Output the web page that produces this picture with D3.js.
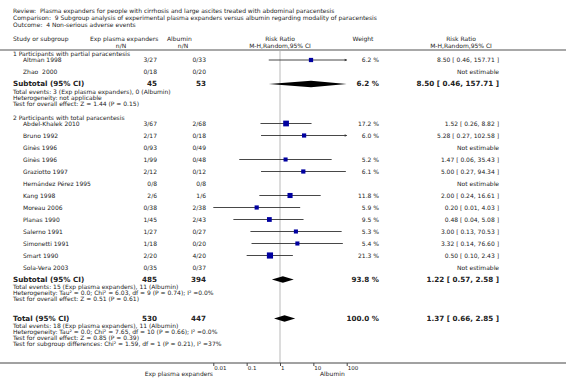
<!DOCTYPE html>
<html><head><meta charset="utf-8">
<script src="https://cdn.jsdelivr.net/npm/d3@7"></script>
<style>
html,body{margin:0;padding:0;background:#fff;}
svg{display:block;font-family:"DejaVu Sans",Verdana,sans-serif;}
text{white-space:pre;fill:#222;}
</style></head>
<body>
<svg id="c" width="566" height="380"></svg>
<script>
// ---------- data ----------
const headerLines = [
  "Review:  Plasma expanders for people with cirrhosis and large ascites treated with abdominal paracentesis",
  "Comparison:  9 Subgroup analysis of experimental plasma expanders versus albumin regarding modality of paracentesis",
  "Outcome:  4 Non-serious adverse events"
];
const groupTitles = ["1 Participants with partial paracentesis", "2 Participants with total paracentesis"];
const studies = ["Altman 1998","Zhao  2000",
  "Abdel-Khalek 2010","Bruno 1992","Ginès 1996","Ginès 1996","Graziotto 1997","Hernández Pérez 1995",
  "Kang 1998","Moreau 2006","Planas 1990","Salerno 1991","Simonetti 1991","Smart 1990","Sola-Vera 2003"];
const studyGroup = [0,0, 1,1,1,1,1,1,1,1,1,1,1,1,1];
const expNN = ["3/27","0/18", "3/67","2/17","0/93","1/99","2/12","0/8","2/6","0/38","1/45","1/27","1/18","2/20","0/35"];
const albNN = ["0/33","0/20", "2/68","0/18","0/49","0/48","0/12","0/8","1/6","2/38","2/43","0/27","0/20","4/20","0/37"];
const rr    = [8.50,null, 1.52,5.28,null,1.47,5.00,null,2.00,0.20,0.48,3.00,3.32,0.50,null];
const rrLo  = [0.46,null, 0.26,0.27,null,0.06,0.27,null,0.24,0.01,0.04,0.13,0.14,0.10,null];
const rrHi  = [157.71,null, 8.82,102.58,null,35.43,94.34,null,16.61,4.03,5.08,70.53,76.60,2.43,null];
const weight= [6.2,null, 17.2,6.0,null,5.2,6.1,null,11.8,5.9,9.5,5.3,5.4,21.3,null];

const subLabels = ["Subtotal (95% CI)","Subtotal (95% CI)","Total (95% CI)"];
const subExpN = ["45","485","530"];
const subAlbN = ["53","394","447"];
const subRR   = [8.50,1.22,1.37];
const subLo   = [0.46,0.57,0.66];
const subHi   = [157.71,2.58,2.85];
const subWeight = ["6.2 %","93.8 %","100.0 %"];
const subInfo = [
  ["Total events: 3 (Exp plasma expanders), 0 (Albumin)",
   "Heterogeneity: not applicable",
   "Test for overall effect: Z = 1.44 (P = 0.15)"],
  ["Total events: 15 (Exp plasma expanders), 11 (Albumin)",
   "Heterogeneity: Tau² = 0.0; Chi² = 6.03, df = 9 (P = 0.74); I² =0.0%",
   "Test for overall effect: Z = 0.51 (P = 0.61)"],
  ["Total events: 18 (Exp plasma expanders), 11 (Albumin)",
   "Heterogeneity: Tau² = 0.0; Chi² = 7.65, df = 10 (P = 0.66); I² =0.0%",
   "Test for overall effect: Z = 0.85 (P = 0.39)",
   "Test for subgroup differences: Chi² = 1.59, df = 1 (P = 0.21), I² =37%"]
];
const tickValues = [0.01,0.1,1,10,100];
const tickLabels = ["0.01","0.1","1","10","100"];
const favourLeft = "Exp plasma expanders", favourRight = "Albumin";

// ---------- layout ----------
const svg = d3.select("#c");
const x = d3.scaleLog().domain([0.01,100]).range([213.3,346.7]).clamp(true);
const boxSize = d3.scaleSqrt().domain([0,25]).range([2,6.5]);
const fmt = d3.format(".2f");
const ciText = (r,l,h) => `${fmt(r)} [ ${fmt(l)}, ${fmt(h)} ]`;

const X = {label:13, study:23, exp:157, alb:206, weight:379, ci:499};
const small = 6, bold = 7.2;
const axisY = 363;

// header
headerLines.forEach((t,i)=>svg.append("text").attr("x",13).attr("y",13+i*7).attr("font-size",6).text(t));
const hy1 = 41, hy2 = 48;
svg.append("text").attr("x",13).attr("y",hy1).attr("font-size",6).text("Study or subgroup");
svg.append("text").attr("x",90).attr("y",hy1).attr("font-size",6).text("Exp plasma expanders");
svg.append("text").attr("x",167).attr("y",hy1).attr("font-size",6).text("Albumin");
svg.append("text").attr("x",121).attr("y",hy2).attr("font-size",6).attr("text-anchor","middle").text("n/N");
svg.append("text").attr("x",183).attr("y",hy2).attr("font-size",6).attr("text-anchor","middle").text("n/N");
svg.append("text").attr("x",x(1)).attr("y",hy1).attr("font-size",6).attr("text-anchor","middle").text("Risk Ratio");
svg.append("text").attr("x",x(1)).attr("y",hy2).attr("font-size",6).attr("text-anchor","middle").text("M-H,Random,95% CI");
svg.append("text").attr("x",363).attr("y",hy1).attr("font-size",6).attr("text-anchor","middle").text("Weight");
svg.append("text").attr("x",461).attr("y",hy1).attr("font-size",6).attr("text-anchor","middle").text("Risk Ratio");
svg.append("text").attr("x",461).attr("y",hy2).attr("font-size",6).attr("text-anchor","middle").text("M-H,Random,95% CI");
svg.append("rect").attr("x",0).attr("y",49).attr("width",566).attr("height",2).attr("fill","#a8a8a8");

// null line
svg.append("line").attr("x1",x(1)).attr("x2",x(1)).attr("y1",51).attr("y2",axisY)
  .attr("stroke","#dcdcdc").attr("stroke-width",2);

// compute row positions
const rowStep = 12;
const groupStart = [54, 117.5];
const studyY = [], subY = [];
groupStart.forEach((g,gi)=>{
  const idx = studies.map((s,i)=>i).filter(i=>studyGroup[i]===gi);
  idx.forEach((i,k)=>{ studyY[i] = g + 6 + k*rowStep; });
  subY[gi] = g + 6 + idx.length*rowStep;
});
subY[2] = 318.5;

const tb = 2.1; // baseline offset for small text
// group titles
groupTitles.forEach((t,gi)=>svg.append("text").attr("x",X.label).attr("y",groupStart[gi]+tb).attr("font-size",small).text(t));

// study rows
studies.forEach((s,i)=>{
  const y = studyY[i];
  const g = svg.append("g");
  g.append("text").attr("x",X.study).attr("y",y+tb).attr("font-size",small).text(s);
  g.append("text").attr("x",X.exp).attr("y",y+tb).attr("font-size",small).attr("text-anchor","end").text(expNN[i]);
  g.append("text").attr("x",X.alb).attr("y",y+tb).attr("font-size",small).attr("text-anchor","end").text(albNN[i]);
  if (rr[i]==null) {
    g.append("text").attr("x",X.ci).attr("y",y+tb).attr("font-size",small).attr("text-anchor","end").text("Not estimable");
    return;
  }
  g.append("text").attr("x",X.weight).attr("y",y+tb).attr("font-size",small).attr("text-anchor","end").text(weight[i].toFixed(1)+" %");
  g.append("text").attr("x",X.ci).attr("y",y+tb).attr("font-size",small).attr("text-anchor","end").text(ciText(rr[i],rrLo[i],rrHi[i]));
  const x1 = x(rrLo[i]), x2 = x(rrHi[i]);
  g.append("line").attr("x1",x1).attr("x2",x2).attr("y1",y).attr("y2",y).attr("stroke","#333").attr("stroke-width",0.9);
  if (rrHi[i] > x.domain()[1]) {
    g.append("path").attr("d",`M${x2+0.5},${y} L${x2-2},${y-1.3} L${x2-2},${y+1.3} Z`).attr("fill","#333");
  }
  const s2 = boxSize(weight[i]);
  g.append("rect").attr("x",x(rr[i])-s2/2).attr("y",y-s2/2).attr("width",s2).attr("height",s2).attr("fill","#0000a0");
});

// subtotals / total
subLabels.forEach((t,k)=>{
  const y = subY[k];
  const by = y + 2.3;
  svg.append("text").attr("x",X.label).attr("y",by).attr("font-size",bold).attr("font-weight","bold").text(t);
  svg.append("text").attr("x",X.exp).attr("y",by).attr("font-size",bold).attr("font-weight","bold").attr("text-anchor","end").text(subExpN[k]);
  svg.append("text").attr("x",X.alb).attr("y",by).attr("font-size",bold).attr("font-weight","bold").attr("text-anchor","end").text(subAlbN[k]);
  svg.append("text").attr("x",X.weight).attr("y",by).attr("font-size",bold).attr("font-weight","bold").attr("text-anchor","end").text(subWeight[k]);
  svg.append("text").attr("x",X.ci).attr("y",by).attr("font-size",bold).attr("font-weight","bold").attr("text-anchor","end").text(ciText(subRR[k],subLo[k],subHi[k]));
  const h = 3.3;
  const xl = x(subLo[k]), xm = x(subRR[k]), xh = x(subHi[k]);
  svg.append("path").attr("d",`M${xl},${y} L${xm},${y-h} L${xh},${y} L${xm},${y+h} Z`).attr("fill","#000");
  subInfo[k].forEach((line,j)=>{
    svg.append("text").attr("x",X.label).attr("y",y+7.6+j*6+tb).attr("font-size",small).text(line);
  });
});

// axis
svg.append("line").attr("x1",0).attr("x2",566).attr("y1",axisY).attr("y2",axisY).attr("stroke","#444").attr("stroke-width",1);
const ax = svg.append("g").attr("transform",`translate(0,${axisY})`)
  .call(d3.axisBottom(x).tickValues(tickValues).tickSize(3).tickFormat((d,i)=>tickLabels[i]));
ax.select(".domain").remove();
ax.selectAll(".tick line").attr("stroke","#444");
ax.selectAll(".tick text").attr("font-size",5.5).attr("font-family","DejaVu Sans").attr("fill","#222")
  .attr("text-anchor","start").attr("x",0.5).attr("y",3).attr("dy","0.71em");
svg.append("text").attr("x",213).attr("y",376).attr("font-size",6).attr("text-anchor","end").text(favourLeft);
svg.append("text").attr("x",320).attr("y",376).attr("font-size",6).text(favourRight);
</script>
</body></html>
